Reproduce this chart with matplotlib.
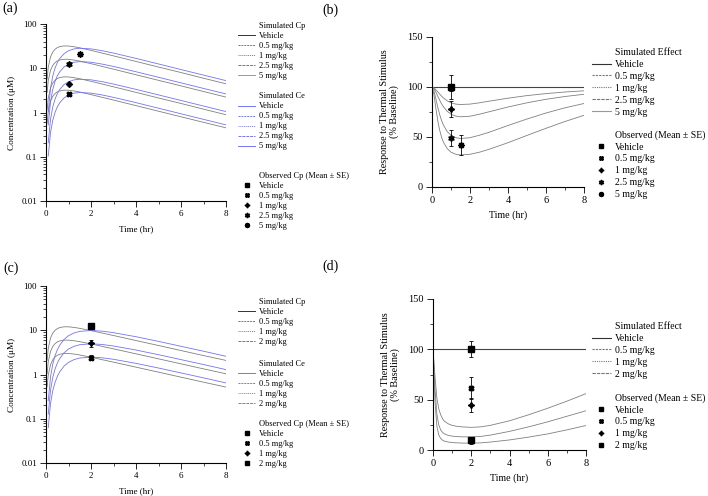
import matplotlib
matplotlib.use('Agg')
import matplotlib.pyplot as plt
from matplotlib.lines import Line2D

plt.rcParams['font.family'] = ['Liberation Serif', 'DejaVu Serif']

# ---------------- data ----------------
t_cp = [0.05, 0.1, 0.2, 0.3, 0.4, 0.5, 0.6, 0.8, 1.0, 1.25, 1.5, 2, 2.5, 3, 4, 5, 6, 7, 8]
t_ce = [0.1, 0.2, 0.3, 0.4, 0.5, 0.6, 0.8, 1.0, 1.25, 1.5, 2, 2.5, 3, 4, 5, 6, 7, 8]
t_eff = [0, 0.1, 0.2, 0.3, 0.4, 0.5, 0.6, 0.8, 1.0, 1.25, 1.5, 2, 2.5, 3, 4, 5, 6, 7, 8]
t_vehicle = [0, 8]
eff_vehicle = [100, 100]

# panel (a): simulated Cp / Ce (uM)
a_cp_05 = [0.57, 1.05, 1.80, 2.32, 2.68, 2.92, 3.07, 3.20, 3.18, 3.06, 2.90, 2.54, 2.20, 1.91, 1.43, 1.07, 0.80, 0.60, 0.45]
a_cp_1 = [1.14, 2.10, 3.59, 4.64, 5.36, 5.84, 6.14, 6.39, 6.36, 6.12, 5.79, 5.07, 4.40, 3.81, 2.85, 2.13, 1.60, 1.19, 0.89]
a_cp_25 = [2.85, 5.25, 8.98, 11.6, 13.4, 14.6, 15.35, 15.98, 15.9, 15.3, 14.5, 12.7, 11.0, 9.53, 7.13, 5.33, 4.0, 2.98, 2.23]
a_cp_5 = [5.7, 10.5, 17.95, 23.2, 26.8, 29.2, 30.7, 31.95, 31.8, 30.6, 28.95, 25.35, 22.0, 19.05, 14.25, 10.65, 8.0, 5.95, 4.45]
a_ce_05 = [0.104, 0.349, 0.665, 1.00, 1.33, 1.63, 2.13, 2.49, 2.74, 2.83, 2.74, 2.49, 2.20, 1.67, 1.25, 0.935, 0.70, 0.525]
a_ce_1 = [0.207, 0.698, 1.33, 2.00, 2.66, 3.26, 4.27, 4.97, 5.47, 5.65, 5.48, 4.97, 4.39, 3.33, 2.50, 1.87, 1.40, 1.05]
a_ce_25 = [0.518, 1.745, 3.32, 5.0, 6.65, 8.15, 10.7, 12.4, 13.7, 14.1, 13.7, 12.4, 11.0, 8.33, 6.25, 4.68, 3.5, 2.63]
a_ce_5 = [1.04, 3.49, 6.64, 10.0, 13.3, 16.3, 21.3, 24.9, 27.4, 28.3, 27.4, 24.9, 22.0, 16.7, 12.5, 9.35, 7.0, 5.25]
a_obs_t = [1, 1, 1, 1.5]
a_obs_mean = [2.6, 4.4, 12.5, 20.5]
a_obs_se = [0.3, 0.5, 1.0, 1.5]

# panel (b): simulated effect (% baseline)
b_eff_05 = [100, 99.2, 97.4, 95.2, 93.0, 90.9, 89.1, 86.2, 84.2, 82.9, 82.5, 82.9, 84.2, 85.8, 88.8, 91.4, 93.4, 95.0, 96.2]
b_eff_1 = [100, 98.5, 95.0, 90.9, 86.9, 83.3, 80.3, 75.7, 72.8, 70.9, 70.2, 70.8, 72.8, 75.2, 80.0, 84.2, 87.7, 90.5, 92.7]
b_eff_25 = [100, 96.3, 88.4, 80.0, 72.7, 66.7, 62.0, 55.4, 51.8, 49.3, 48.5, 49.3, 51.8, 54.7, 61.5, 68.0, 74.0, 79.2, 83.5]
b_eff_5 = [100, 92.7, 79.2, 66.7, 57.1, 50.0, 44.9, 38.4, 34.8, 32.7, 32.0, 32.7, 34.8, 37.7, 44.3, 51.6, 58.7, 65.5, 71.7]
b_obs_t = [1, 1, 1, 1, 1.5]
b_obs_mean = [100, 99, 78, 49, 42]
b_obs_se = [12, 3, 8, 8, 10]

# panel (c)
c_cp_05 = [0.525, 0.97, 1.66, 2.15, 2.485, 2.715, 2.86, 2.99, 2.99, 2.895, 2.76, 2.455, 2.16, 1.90, 1.465, 1.13, 0.87, 0.67, 0.52]
c_cp_1 = [1.05, 1.94, 3.32, 4.30, 4.97, 5.43, 5.72, 5.98, 5.98, 5.79, 5.52, 4.91, 4.32, 3.80, 2.93, 2.26, 1.74, 1.34, 1.04]
c_cp_2 = [2.10, 3.88, 6.64, 8.60, 9.94, 10.86, 11.44, 11.96, 11.96, 11.58, 11.04, 9.82, 8.64, 7.60, 5.86, 4.52, 3.48, 2.68, 2.08]
c_ce_05 = [0.063, 0.219, 0.427, 0.66, 0.895, 1.13, 1.545, 1.88, 2.175, 2.355, 2.47, 2.385, 2.205, 1.785, 1.40, 1.085, 0.84, 0.645]
c_ce_1 = [0.127, 0.438, 0.854, 1.32, 1.79, 2.26, 3.09, 3.76, 4.35, 4.71, 4.94, 4.77, 4.41, 3.57, 2.80, 2.17, 1.68, 1.29]
c_ce_2 = [0.254, 0.876, 1.71, 2.64, 3.58, 4.52, 6.18, 7.52, 8.70, 9.42, 9.88, 9.54, 8.82, 7.14, 5.60, 4.34, 3.36, 2.58]
c_obs_t = [2, 2, 2]
c_obs_mean = [2.4, 5.1, 12.8]
c_obs_se = [0.3, 0.9, 1.0]

# panel (d)
d_eff_05 = [100, 74, 52, 41, 35, 31, 28.5, 26, 24.5, 23.5, 23, 22.5, 23, 24.5, 29, 35, 41.5, 48.5, 56]
d_eff_1 = [100, 62, 36, 25, 20, 17.5, 16, 14.5, 13.8, 13.3, 13.1, 13, 13.5, 14.8, 18.5, 23, 28, 33.5, 39]
d_eff_2 = [100, 50, 24, 15, 11.5, 9.8, 8.8, 7.9, 7.4, 7.1, 6.9, 6.8, 7.1, 7.9, 10, 12.8, 16, 20, 24.3]
d_obs_t = [2, 2, 2, 2]
d_obs_mean = [100, 62, 45, 9.5]
d_obs_se = [8, 11, 7, 3.5]

labels_ab = ['Vehicle', '0.5 mg/kg', '1 mg/kg', '2.5 mg/kg', '5 mg/kg']
labels_cd = ['Vehicle', '0.5 mg/kg', '1 mg/kg', '2 mg/kg']
log_ticks = [0.01, 0.1, 1, 10, 100]
log_tick_labels = ['0.01', '0.1', '1', '10', '100']
time_ticks = [0, 2, 4, 6, 8]
eff_ticks = [0, 50, 100, 150]

# ---------------- styles ----------------
GRAY_STYLES = [dict(color='#333333', ls='-'),
               dict(color='#777777', ls=(0, (2, 1))),
               dict(color='#777777', ls=(0, (1, 1))),
               dict(color='#777777', ls=(0, (3, 1))),
               dict(color='#999999', ls='-')]
BLUE = '#7474f0'
BLUE_STYLES = [dict(color=BLUE, ls='-'),
               dict(color=BLUE, ls=(0, (2, 1))),
               dict(color=BLUE, ls=(0, (1, 1))),
               dict(color=BLUE, ls=(0, (3, 1))),
               dict(color=BLUE, ls='-')]
MARK_AB = [dict(marker='s', ms=4), dict(marker='X', ms=3.5), dict(marker=(4, 1, 0), ms=4.5),
           dict(marker=(6, 1, 0), ms=4.5), dict(marker=(8, 1, 0), ms=4.5)]
MARK_CD = [dict(marker='s', ms=4), dict(marker='X', ms=3.5), dict(marker=(4, 1, 0), ms=4.5),
           dict(marker='s', ms=4)]

W, H = 708, 496
fig = plt.figure(figsize=(W / 100, H / 100), dpi=100)


def frac(l, t, r, b):
    return [l / W, 1 - b / H, (r - l) / W, (b - t) / H]


def style_axes(ax, fs):
    for s in ['top', 'right']:
        ax.spines[s].set_visible(False)
    for s in ['left', 'bottom']:
        ax.spines[s].set_linewidth(0.8)
    ax.tick_params(which='major', direction='out', length=4.5, width=0.6, labelsize=fs, pad=2)
    ax.tick_params(which='minor', direction='out', length=2.5, width=0.5)
    ax.set_xlim(0, 8)
    ax.set_xticks(time_ticks)
    ax.set_xticks([1, 3, 5, 7], minor=True)


def style_log(ax, fs):
    style_axes(ax, fs)
    ax.set_yscale('log')
    ax.set_ylim(0.01, 100)
    ax.set_yticks(log_ticks)
    ax.set_yticklabels(log_tick_labels)
    minors = [m * d for d in [0.01, 0.1, 1, 10] for m in range(2, 10)]
    ax.set_yticks(minors, minor=True)
    ax.set_yticklabels([], minor=True)


def style_eff(ax, fs):
    style_axes(ax, fs)
    ax.set_ylim(0, 150)
    ax.set_yticks(eff_ticks)
    ax.set_yticks([25, 75, 125], minor=True)


def blank():
    return Line2D([], [], color='none', lw=0)


def section(title, items, x, y, fs, handlelength, spacing, pad):
    handles = [blank()] + [h for h, _ in items]
    labels = [title] + [l for _, l in items]
    leg = fig.legend(handles, labels, loc='upper left', bbox_to_anchor=(x / W, 1 - y / H),
                     frameon=False, fontsize=fs, handlelength=handlelength, handletextpad=pad,
                     labelspacing=spacing, borderpad=0, borderaxespad=0, markerscale=0.8)
    return leg


def line_h(st, lw=0.7):
    return Line2D([], [], lw=lw, **st)


def mark_h(mk):
    return Line2D([], [], color='black', ls='none', **mk)


def err(ax, tt, m, s, mk):
    ax.errorbar([tt], [m], yerr=[s], color='black', ls='none', elinewidth=0.6, capsize=1.2,
                capthick=0.6, **mk)


SMALL = dict(fs=6, handlelength=2.05, spacing=0.24, pad=0.5)
BIG = dict(fs=7, handlelength=1.95, spacing=0.3, pad=0.42)

# ---------------- panel (a) ----------------
axa = fig.add_axes(frac(46, 24, 226, 201))
for ys in [a_cp_05, a_cp_1, a_cp_25, a_cp_5]:
    axa.plot(t_cp, ys, lw=0.6, color='#808080')
for ys in [a_ce_05, a_ce_1, a_ce_25, a_ce_5]:
    axa.plot(t_ce, ys, lw=0.6, color=BLUE)
for tt, m, s, mk in zip(a_obs_t, a_obs_mean, a_obs_se, MARK_AB[1:]):
    err(axa, tt, m, s, mk)
style_log(axa, 6.5)
axa.set_xlabel('Time (hr)', fontsize=6.5, labelpad=5)
axa.set_ylabel('Concentration (μM)', fontsize=6.7, labelpad=4)

section('Simulated Cp', [(line_h(s), l) for s, l in zip(GRAY_STYLES, labels_ab)], 238, 21.5, **SMALL)
section('Simulated Ce', [(line_h(s), l) for s, l in zip(BLUE_STYLES, labels_ab)], 238, 92.5, **SMALL)
section('Observed Cp (Mean ± SE)', [(mark_h(m), l) for m, l in zip(MARK_AB, labels_ab)], 238, 171.5, **SMALL)

# ---------------- panel (b) ----------------
axb = fig.add_axes(frac(432, 37, 584, 187))
axb.plot(t_vehicle, eff_vehicle, lw=0.8, color='#444444')
for ys in [b_eff_05, b_eff_1, b_eff_25, b_eff_5]:
    axb.plot(t_eff, ys, lw=0.6, color='#808080')
for tt, m, s, mk in zip(b_obs_t, b_obs_mean, b_obs_se, MARK_AB):
    err(axb, tt, m, s, mk)
style_eff(axb, 7.5)
axb.set_xlabel('Time (hr)', fontsize=7.2, labelpad=4)
axb.set_ylabel('Response to Thermal Stimulus\n(% Baseline)', fontsize=7.3, labelpad=6, linespacing=1.1)

section('Simulated Effect', [(line_h(s, 0.8), l) for s, l in zip(GRAY_STYLES, labels_ab)], 592, 48, **BIG)
section('Observed (Mean ± SE)', [(mark_h(m), l) for m, l in zip(MARK_AB, labels_ab)], 592, 130, **BIG)

# ---------------- panel (c) ----------------
axc = fig.add_axes(frac(46, 286, 226, 463))
for ys in [c_cp_05, c_cp_1, c_cp_2]:
    axc.plot(t_cp, ys, lw=0.6, color='#808080')
for ys in [c_ce_05, c_ce_1, c_ce_2]:
    axc.plot(t_ce, ys, lw=0.6, color=BLUE)
for tt, m, s, mk in zip(c_obs_t, c_obs_mean, c_obs_se, MARK_CD[1:]):
    err(axc, tt, m, s, mk)
style_log(axc, 6.5)
axc.set_xlabel('Time (hr)', fontsize=6.5, labelpad=5)
axc.set_ylabel('Concentration (μM)', fontsize=6.7, labelpad=4)

section('Simulated Cp', [(line_h(s), l) for s, l in zip(GRAY_STYLES[:4], labels_cd)], 238, 298, **SMALL)
section('Simulated Ce', [(line_h(s), l) for s, l in zip(BLUE_STYLES[:4], labels_cd)], 238, 360, **SMALL)
section('Observed Cp (Mean ± SE)', [(mark_h(m), l) for m, l in zip(MARK_CD, labels_cd)], 238, 420, **SMALL)

# ---------------- panel (d) ----------------
axd = fig.add_axes(frac(433, 299, 586, 450))
axd.plot(t_vehicle, eff_vehicle, lw=0.8, color='#444444')
for ys in [d_eff_05, d_eff_1, d_eff_2]:
    axd.plot(t_eff, ys, lw=0.6, color='#808080')
for tt, m, s, mk in zip(d_obs_t, d_obs_mean, d_obs_se, MARK_CD):
    err(axd, tt, m, s, mk)
style_eff(axd, 7.5)
axd.set_xlabel('Time (hr)', fontsize=7.2, labelpad=4)
axd.set_ylabel('Response to Thermal Stimulus\n(% Baseline)', fontsize=7.3, labelpad=6, linespacing=1.1)

section('Simulated Effect', [(line_h(s, 0.8), l) for s, l in zip(GRAY_STYLES[:4], labels_cd)], 592, 322, **BIG)
section('Observed (Mean ± SE)', [(mark_h(m), l) for m, l in zip(MARK_CD, labels_cd)], 592, 393, **BIG)

# panel letters
for lab, x, y in [('(a)', 2, 8), ('(b)', 322, 10), ('(c)', 3, 268), ('(d)', 322, 266)]:
    fig.text(x / W, 1 - y / H, lab, fontsize=10, va='center', ha='left')

fig.savefig('out.png', dpi=100)
